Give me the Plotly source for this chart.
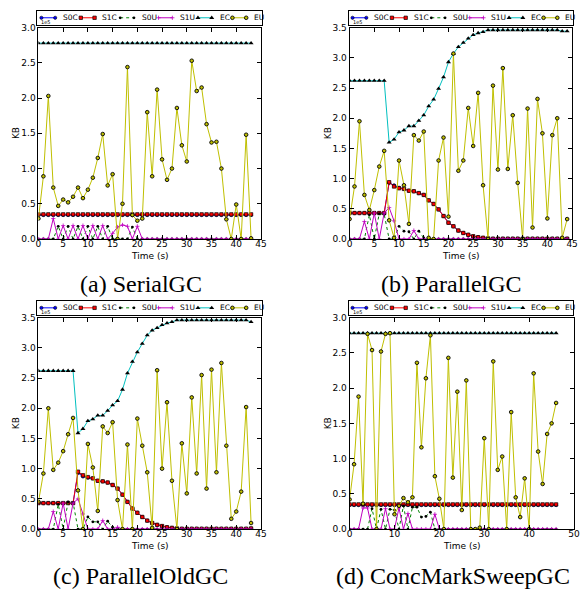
import plotly.graph_objects as go

FIG_W, FIG_H = 584, 597

# ---------------- data: heap statistics, values in units of 1e5 KB ----------------
SERIES = ["S0C", "S1C", "S0U", "S1U", "EC", "EU"]

# (a) SerialGC
TIME_A = list(range(44))
S0C_A = [0.34, 0.34, 0.34, 0.34, 0.34, 0.34, 0.34, 0.34, 0.34, 0.34,
         0.34, 0.34, 0.34, 0.34, 0.34, 0.34, 0.34, 0.34, 0.34, 0.34,
         0.34, 0.34, 0.34, 0.34, 0.34, 0.34, 0.34, 0.34, 0.34, 0.34,
         0.34, 0.34, 0.34, 0.34, 0.34, 0.34, 0.34, 0.34, 0.34, 0.34,
         0.34, 0.34, 0.34, 0.34]
S1C_A = [0.35, 0.35, 0.35, 0.35, 0.35, 0.35, 0.35, 0.35, 0.35, 0.35,
         0.35, 0.35, 0.35, 0.35, 0.35, 0.35, 0.35, 0.35, 0.35, 0.35,
         0.35, 0.35, 0.35, 0.35, 0.35, 0.35, 0.35, 0.35, 0.35, 0.35,
         0.35, 0.35, 0.35, 0.35, 0.35, 0.35, 0.35, 0.35, 0.35, 0.35,
         0.35, 0.35, 0.35, 0.35]
S0U_A = [0, 0, 0, 0, 0.18, 0, 0.18, 0, 0.18, 0,
         0.18, 0, 0.18, 0, 0.18, 0, 0, 0, 0, 0.17,
         0, 0, 0, 0, 0, 0, 0, 0, 0, 0,
         0, 0, 0, 0, 0, 0, 0, 0, 0, 0,
         0, 0, 0, 0]
S1U_A = [0, 0, 0, 0.29, 0, 0.19, 0, 0.19, 0, 0.19,
         0, 0.19, 0, 0.19, 0, 0.08, 0.17, 0.20, 0.18, 0,
         0.18, 0, 0, 0, 0, 0, 0, 0, 0, 0,
         0, 0, 0, 0, 0, 0, 0, 0, 0, 0,
         0, 0, 0, 0]
EC_A = [2.78, 2.78, 2.78, 2.78, 2.78, 2.78, 2.78, 2.78, 2.78, 2.78,
        2.78, 2.78, 2.78, 2.78, 2.78, 2.78, 2.78, 2.78, 2.78, 2.78,
        2.78, 2.78, 2.78, 2.78, 2.78, 2.78, 2.78, 2.78, 2.78, 2.78,
        2.78, 2.78, 2.78, 2.78, 2.78, 2.78, 2.78, 2.78, 2.78, 2.78,
        2.78, 2.78, 2.78, 2.78]
EU_A = [0.29, 0.89, 2.03, 0.73, 0.47, 0.56, 0.52, 0.60, 0.73, 0.58,
        0.70, 0.87, 1.15, 1.49, 0.76, 0.92, 0.0, 0.50, 2.44, 0.34,
        0.26, 0.29, 1.80, 0.89, 2.12, 1.13, 0.84, 1.00, 1.86, 1.33,
        1.10, 2.53, 2.10, 2.15, 1.63, 1.37, 1.38, 1.00, 0.28, 0.0,
        0.49, 0.0, 1.48, 0.01]

# (b) ParallelGC
TIME_B = list(range(45))
S0C_B = [0.43, 0.43, 0.43, 0.43, 0.43, 0.43, 0.43, 0.43, 0.93, 0.89,
         0.85, 0.83, 0.80, 0.79, 0.76, 0.73, 0.64, 0.58, 0.49, 0.38,
         0.27, 0.21, 0.14, 0.10, 0.07, 0.045, 0.03, 0.02, 0.01, 0.005,
         0.005, 0.005, 0.005, 0.005, 0.005, 0.005, 0.005, 0.005, 0.005, 0.005,
         0.005, 0.005, 0.005, 0.005, 0.005]
S1C_B = [0.43, 0.43, 0.43, 0.43, 0.43, 0.43, 0.43, 0.43, 0.94, 0.87,
         0.84, 0.83, 0.80, 0.79, 0.76, 0.73, 0.64, 0.58, 0.49, 0.38,
         0.27, 0.21, 0.14, 0.10, 0.07, 0.045, 0.03, 0.02, 0.01, 0.005,
         0.005, 0.005, 0.005, 0.005, 0.005, 0.005, 0.005, 0.005, 0.005, 0.005,
         0.005, 0.005, 0.005, 0.005, 0.005]
S0U_B = [0, 0, 0, 0, 0.40, 0, 0.42, 0.41, 0, 0,
         0.21, 0.13, 0.12, 0, 0.13, 0.02, 0.02, 0, 0, 0,
         0, 0, 0, 0, 0, 0, 0, 0, 0, 0,
         0, 0, 0, 0, 0, 0, 0, 0, 0, 0,
         0, 0, 0, 0, 0]
S1U_B = [0, 0, 0, 0.29, 0, 0.43, 0, 0.43, 0.52, 0.30,
         0, 0, 0, 0.14, 0, 0, 0, 0, 0, 0,
         0, 0, 0, 0, 0, 0, 0, 0, 0, 0,
         0, 0, 0, 0, 0, 0, 0, 0, 0, 0,
         0, 0, 0, 0, 0]
EC_B = [2.62, 2.62, 2.62, 2.62, 2.62, 2.62, 2.62, 2.62, 1.60, 1.65,
        1.77, 1.80, 1.87, 1.87, 1.96, 2.05, 2.20, 2.31, 2.49, 2.68,
        2.93, 3.07, 3.18, 3.25, 3.32, 3.38, 3.41, 3.43, 3.46, 3.46,
        3.46, 3.46, 3.46, 3.46, 3.46, 3.46, 3.46, 3.46, 3.46, 3.46,
        3.46, 3.46, 3.46, 3.44, 3.44]
EU_B = [0.33, 0.87, 1.95, 0.73, 0.48, 0.81, 1.20, 1.46, 0.31, 0.02,
        1.30, 0.89, 0.25, 1.72, 1.63, 1.78, 0.02, 0.0, 1.30, 1.68,
        0.37, 3.07, 1.13, 1.30, 2.17, 1.54, 2.42, 0.89, 0.0, 2.54,
        1.15, 2.83, 1.16, 2.05, 0.93, 0.0, 2.16, 0.19, 2.32, 1.75,
        0.34, 1.72, 2.00, 0.02, 0.33]

# (c) ParallelOldGC
TIME_C = list(range(44))
S0C_C = [0.43, 0.43, 0.43, 0.43, 0.43, 0.43, 0.43, 0.43, 0.93, 0.87,
         0.85, 0.84, 0.80, 0.79, 0.77, 0.73, 0.67, 0.57, 0.45, 0.34,
         0.27, 0.20, 0.14, 0.10, 0.07, 0.05, 0.03, 0.02, 0.01, 0.005,
         0.005, 0.005, 0.005, 0.005, 0.005, 0.005, 0.005, 0.005, 0.005, 0.005,
         0.005, 0.005, 0.005, 0.01]
S1C_C = [0.43, 0.43, 0.43, 0.43, 0.43, 0.43, 0.43, 0.43, 0.95, 0.89,
         0.86, 0.84, 0.80, 0.79, 0.77, 0.73, 0.67, 0.57, 0.45, 0.34,
         0.27, 0.20, 0.14, 0.10, 0.07, 0.05, 0.03, 0.02, 0.01, 0.005,
         0.005, 0.005, 0.005, 0.005, 0.005, 0.005, 0.005, 0.005, 0.005, 0.005,
         0.005, 0.005, 0.005, 0.01]
S0U_C = [0, 0, 0, 0, 0.41, 0, 0.45, 0.44, 0, 0,
         0.20, 0.12, 0.12, 0, 0.13, 0.03, 0, 0, 0, 0,
         0, 0, 0, 0, 0, 0, 0, 0, 0, 0,
         0, 0, 0, 0, 0, 0, 0, 0, 0, 0,
         0, 0, 0, 0]
S1U_C = [0, 0, 0, 0.29, 0, 0.43, 0, 0.43, 0.50, 0.25,
         0, 0, 0, 0.14, 0, 0, 0.03, 0, 0, 0,
         0, 0, 0, 0, 0, 0, 0, 0, 0, 0,
         0, 0, 0, 0, 0, 0, 0, 0, 0, 0,
         0, 0, 0, 0]
EC_C = [2.62, 2.62, 2.62, 2.62, 2.62, 2.62, 2.62, 2.62, 1.59, 1.66,
        1.79, 1.82, 1.88, 1.88, 1.96, 2.05, 2.12, 2.31, 2.58, 2.77,
        2.93, 3.07, 3.21, 3.29, 3.33, 3.38, 3.41, 3.43, 3.46, 3.46,
        3.46, 3.46, 3.46, 3.46, 3.46, 3.46, 3.46, 3.46, 3.46, 3.46,
        3.46, 3.46, 3.46, 3.43]
EU_C = [0.45, 0.92, 2.00, 0.98, 1.10, 1.29, 1.57, 1.84, 0.64, 0.0,
        1.41, 1.02, 0.30, 1.70, 1.59, 1.77, 0.48, 0.0, 1.40, 0.0,
        1.83, 1.38, 0.94, 0.02, 2.63, 1.00, 2.10, 0.80, 0.0, 1.42,
        0.59, 2.18, 0.92, 2.55, 0.67, 2.64, 0.94, 2.75, 1.38, 0.17,
        0.29, 0.62, 2.02, 0.10]

# (d) ConcMarkSweepGC
TIME_D = list(range(47))
S0C_D = [0.34, 0.34, 0.34, 0.34, 0.34, 0.34, 0.34, 0.34, 0.34, 0.34,
         0.34, 0.34, 0.34, 0.34, 0.34, 0.34, 0.34, 0.34, 0.34, 0.34,
         0.34, 0.34, 0.34, 0.34, 0.34, 0.34, 0.34, 0.34, 0.34, 0.34,
         0.34, 0.34, 0.34, 0.34, 0.34, 0.34, 0.34, 0.34, 0.34, 0.34,
         0.34, 0.34, 0.34, 0.34, 0.34, 0.34, 0.34]
S1C_D = [0.35, 0.35, 0.35, 0.35, 0.35, 0.35, 0.35, 0.35, 0.35, 0.35,
         0.35, 0.35, 0.35, 0.35, 0.35, 0.35, 0.35, 0.35, 0.35, 0.35,
         0.35, 0.35, 0.35, 0.35, 0.35, 0.35, 0.35, 0.35, 0.35, 0.35,
         0.35, 0.35, 0.35, 0.35, 0.35, 0.35, 0.35, 0.35, 0.35, 0.35,
         0.35, 0.35, 0.35, 0.35, 0.35, 0.35, 0.35]
S0U_D = [0, 0, 0, 0, 0, 0.29, 0, 0.28, 0, 0.28,
         0.27, 0, 0.33, 0, 0.31, 0.31, 0.17, 0.18, 0.24, 0,
         0, 0, 0, 0, 0, 0, 0, 0, 0, 0,
         0, 0, 0, 0, 0, 0, 0, 0, 0, 0,
         0, 0, 0, 0, 0, 0, 0]
S1U_D = [0, 0, 0, 0.30, 0.30, 0, 0, 0, 0.29, 0,
         0, 0.30, 0, 0.22, 0, 0, 0, 0, 0, 0.21,
         0, 0, 0, 0, 0, 0, 0, 0, 0, 0,
         0, 0, 0, 0, 0, 0, 0, 0, 0, 0,
         0, 0, 0, 0, 0, 0, 0]
EC_D = [2.78, 2.78, 2.78, 2.78, 2.78, 2.78, 2.78, 2.78, 2.78, 2.78,
        2.78, 2.78, 2.78, 2.78, 2.78, 2.78, 2.78, 2.78, 2.78, 2.78,
        2.78, 2.78, 2.78, 2.78, 2.78, 2.78, 2.78, 2.78, 2.78, 2.78,
        2.78, 2.78, 2.78, 2.78, 2.78, 2.78, 2.78, 2.78, 2.78, 2.78,
        2.78, 2.78, 2.78, 2.78, 2.78, 2.78, 2.78]
EU_D = [0.42, 0.92, 1.88, 0.36, 2.77, 2.54, 0.0, 2.52, 2.77, 2.78,
        0.21, 0.33, 0.44, 0.38, 0.45, 2.36, 1.16, 2.14, 2.75, 0.75,
        0.43, 0.0, 2.43, 0.73, 1.95, 0.27, 2.11, 0.0, 0.0, 0.02,
        1.29, 0.0, 2.38, 0.84, 1.03, 0.0, 1.66, 0.45, 0.17, 0.72,
        0.0, 2.21, 1.10, 0.64, 1.35, 1.50, 1.79]

# ---------------- styles / layout ----------------
STYLE = {
    "S0C": dict(line=dict(color="#0000ff", width=1),
                marker=dict(symbol="circle", size=3.2, color="#0000ff", line=dict(color="black", width=0.6))),
    "S1C": dict(line=dict(color="#ff0000", width=1),
                marker=dict(symbol="square", size=3.4, color="#ff0000", line=dict(color="black", width=0.7))),
    "S0U": dict(line=dict(color="#008000", width=1, dash="dot"),
                marker=dict(symbol="circle", size=2.8, color="black", line=dict(width=0))),
    "S1U": dict(line=dict(color="#bf00bf", width=1),
                marker=dict(symbol="cross-thin", size=3, color="#bf00bf", line=dict(color="#bf00bf", width=0.8))),
    "EC": dict(line=dict(color="#00bfbf", width=1),
               marker=dict(symbol="triangle-up", size=4.4, color="black", line=dict(width=0))),
    "EU": dict(line=dict(color="#bfbf00", width=1),
               marker=dict(symbol="circle", size=3.6, color="#bfbf00", line=dict(color="black", width=0.9))),
}

PANELS = [
    dict(time=TIME_A, series=[S0C_A, S1C_A, S0U_A, S1U_A, EC_A, EU_A], xmax=45, xdtick=5, ymax=3.0,
         box=(36, 23, 262, 238), leg=(35, 6, 263, 20), caption="(a) SerialGC", cap=(140, 284)),
    dict(time=TIME_B, series=[S0C_B, S1C_B, S0U_B, S1U_B, EC_B, EU_B], xmax=45, xdtick=5, ymax=3.5,
         box=(352, 23, 578, 238), leg=(351, 6, 579, 20), caption="(b) ParallelGC", cap=(456, 284)),
    dict(time=TIME_C, series=[S0C_C, S1C_C, S0U_C, S1U_C, EC_C, EU_C], xmax=45, xdtick=5, ymax=3.5,
         box=(36, 318, 262, 533), leg=(35, 301, 263, 315), caption="(c) ParallelOldGC", cap=(140, 581)),
    dict(time=TIME_D, series=[S0C_D, S1C_D, S0U_D, S1U_D, EC_D, EU_D], xmax=50, xdtick=10, ymax=3.0,
         box=(352, 318, 580, 533), leg=(351, 301, 579, 315), caption="(d) ConcMarkSweepGC", cap=(457, 581)),
]

LEG_KEYS = [4, 44, 84, 123, 163, 198]   # key offsets inside the legend box (px)
KEY_LEN = 14
TICK_FONT = dict(family="DejaVu Sans", size=9, color="black")

for P in PANELS:
    for s in P["series"]:
        assert len(s) == len(P["time"]), (P["caption"], len(s))


def px_x(p):
    return p / FIG_W


def px_y(p):
    return 1 - p / FIG_H


fig = go.Figure()
annotations = []
layout_axes = {}

for i, P in enumerate(PANELS):
    n = i + 1
    xs, ys = ("x", "y") if n == 1 else (f"x{n}", f"y{n}")
    for name, vals in zip(SERIES, P["series"]):
        st = STYLE[name]
        fig.add_trace(go.Scatter(x=P["time"], y=vals, mode="lines+markers", name=name,
                                 xaxis=xs, yaxis=ys, showlegend=False,
                                 line=st["line"], marker=st["marker"]))
    x0, y0, x1, y1 = P["box"]
    common = dict(ticks="inside", ticklen=4, tickwidth=1, tickcolor="black", showline=True,
                  linecolor="black", linewidth=1, mirror="allticks", showgrid=False,
                  zeroline=False, tickfont=TICK_FONT, fixedrange=True)
    layout_axes["xaxis" if n == 1 else f"xaxis{n}"] = dict(
        domain=[px_x(x0), px_x(x1)], range=[0, P["xmax"]], dtick=P["xdtick"], tick0=0,
        anchor=ys, ticklabelstandoff=-4, **common)
    layout_axes["yaxis" if n == 1 else f"yaxis{n}"] = dict(
        domain=[px_y(y1), px_y(y0)], range=[0, P["ymax"]], dtick=0.5, tick0=0,
        tickformat=".1f", anchor=xs, **common)

    # axis labels, offset text, caption
    annotations.append(dict(text="Time (s)", x=px_x((x0 + x1) / 2), y=px_y(y1 + 17), xref="paper",
                            yref="paper", showarrow=False, xanchor="center", yanchor="middle",
                            font=dict(family="DejaVu Sans", size=9, color="black")))
    annotations.append(dict(text="KB", x=px_x(x0 - 22), y=px_y((y0 + y1) / 2), xref="paper",
                            yref="paper", showarrow=False, textangle=-90, xanchor="center",
                            yanchor="middle", font=dict(family="DejaVu Sans", size=9, color="black")))
    annotations.append(dict(text="1e5", x=px_x(x0 + 1), y=px_y(y0 - 0.5), xref="paper", yref="paper",
                            showarrow=False, xanchor="left", yanchor="bottom",
                            font=dict(family="DejaVu Sans", size=5, color="black")))
    annotations.append(dict(text=P["caption"], x=px_x(P["cap"][0]), y=px_y(P["cap"][1]), xref="paper",
                            yref="paper", showarrow=False, xanchor="center", yanchor="middle",
                            font=dict(family="Liberation Serif", size=24, color="black")))

    # legend box drawn on its own hidden axis pair
    lx0, ly0, lx1, ly1 = P["leg"]
    m = n + 4
    lxs, lys = f"x{m}", f"y{m}"
    layout_axes[f"xaxis{m}"] = dict(domain=[px_x(lx0), px_x(lx1)], range=[0, lx1 - lx0], anchor=lys,
                                    showline=True, linecolor="black", linewidth=1, mirror=True,
                                    showticklabels=False, ticks="", showgrid=False, zeroline=False,
                                    fixedrange=True)
    layout_axes[f"yaxis{m}"] = dict(domain=[px_y(ly1), px_y(ly0)], range=[0, 1], anchor=lxs,
                                    showline=True, linecolor="black", linewidth=1, mirror=True,
                                    showticklabels=False, ticks="", showgrid=False, zeroline=False,
                                    fixedrange=True)
    for k, name in zip(LEG_KEYS, SERIES):
        st = STYLE[name]
        fig.add_trace(go.Scatter(x=[k, k + KEY_LEN], y=[0.5, 0.5], mode="lines+markers",
                                 xaxis=lxs, yaxis=lys, showlegend=False, hoverinfo="skip",
                                 line=st["line"], marker=st["marker"], cliponaxis=False))
        annotations.append(dict(text=name, x=k + KEY_LEN + 6, y=0.5, xref=lxs, yref=lys,
                                showarrow=False, xanchor="left", yanchor="middle",
                                font=dict(family="DejaVu Sans", size=7.5, color="black")))

fig.update_layout(
    width=FIG_W, height=FIG_H,
    margin=dict(l=0, r=0, t=0, b=0),
    paper_bgcolor="white", plot_bgcolor="white",
    showlegend=False,
    annotations=annotations,
    **layout_axes,
)

# remove the default page margin so the figure sits at the window's top-left corner
fig.write_html("out.html", config={"displayModeBar": False},
               post_script="document.body.style.margin='0';document.body.style.overflow='hidden';")
